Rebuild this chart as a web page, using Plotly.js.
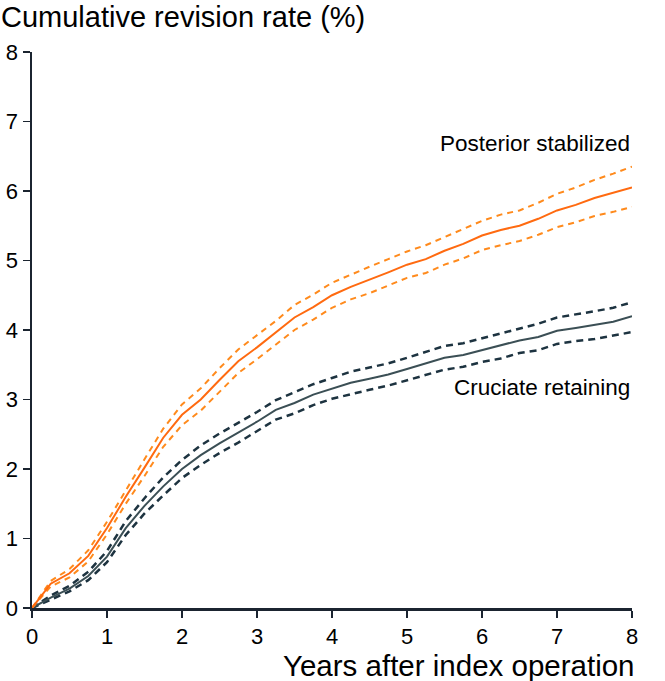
<!DOCTYPE html>
<html>
<head>
<meta charset="utf-8">
<script src="https://cdn.plot.ly/plotly-3.0.1.min.js"></script>
<style>
  html, body { margin: 0; padding: 0; background: #fff; }
  #chart { width: 665px; height: 681px; }
</style>
</head>
<body>
<div id="chart"></div>
<script>
// Years after index operation
const years = [0, 0.25, 0.5, 0.75, 1, 1.25, 1.5, 1.75, 2, 2.25, 2.5, 2.75, 3, 3.25, 3.5, 3.75,
    4, 4.25, 4.5, 4.75, 5, 5.25, 5.5, 5.75, 6, 6.25, 6.5, 6.75, 7, 7.25, 7.5, 7.75, 8];

// Posterior stabilized: estimate and 95% CI
const psRate = [0, 0.35, 0.5, 0.75, 1.15, 1.6, 2.02, 2.45, 2.78, 3.0, 3.28, 3.55, 3.75, 3.96, 4.18, 4.33,
    4.5, 4.62, 4.72, 4.83, 4.94, 5.02, 5.14, 5.24, 5.36, 5.44, 5.5, 5.6, 5.72, 5.8, 5.9, 5.98, 6.05];
const psUpper = [0, 0.39, 0.56, 0.83, 1.24, 1.7, 2.14, 2.58, 2.93, 3.16, 3.45, 3.72, 3.92, 4.13, 4.36, 4.51,
    4.68, 4.8, 4.91, 5.02, 5.13, 5.22, 5.34, 5.45, 5.57, 5.66, 5.72, 5.83, 5.96, 6.05, 6.16, 6.25, 6.35];
const psLower = [0, 0.31, 0.44, 0.67, 1.06, 1.5, 1.9, 2.32, 2.63, 2.84, 3.11, 3.38, 3.58, 3.79, 4.0, 4.15,
    4.32, 4.44, 4.53, 4.64, 4.75, 4.82, 4.94, 5.03, 5.15, 5.22, 5.28, 5.37, 5.48, 5.55, 5.64, 5.7, 5.77];

// Cruciate retaining: estimate and 95% CI
const crRate = [0, 0.15, 0.28, 0.46, 0.74, 1.15, 1.47, 1.75, 2.0, 2.2, 2.37, 2.52, 2.68, 2.85, 2.95, 3.07,
    3.16, 3.24, 3.3, 3.36, 3.44, 3.52, 3.6, 3.64, 3.71, 3.77, 3.85, 3.9, 3.99, 4.03, 4.07, 4.12, 4.2];
const crUpper = [0, 0.18, 0.32, 0.52, 0.82, 1.25, 1.58, 1.88, 2.13, 2.34, 2.51, 2.66, 2.82, 2.99, 3.1, 3.22,
    3.31, 3.4, 3.46, 3.52, 3.6, 3.69, 3.77, 3.81, 3.88, 3.95, 4.03, 4.09, 4.18, 4.22, 4.27, 4.32, 4.4];
const crLower = [0, 0.12, 0.24, 0.4, 0.66, 1.05, 1.36, 1.62, 1.87, 2.06, 2.23, 2.38, 2.54, 2.71, 2.8, 2.92,
    3.01, 3.08, 3.14, 3.2, 3.28, 3.35, 3.43, 3.47, 3.54, 3.59, 3.67, 3.71, 3.8, 3.84, 3.87, 3.92, 3.97];

const tickVals = [0, 1, 2, 3, 4, 5, 6, 7, 8];

const orange = '#ff6a10';
const orangeDash = '#ff8a1c';
const darkLine = '#3b4f55';
const darkDash = '#1d3340';
const axisColor = '#1b2430';
const fontFamily = '"Liberation Sans", Arial, Helvetica, sans-serif';

function line(y, color, width, dash) {
    return {
        x: years, y: y, type: 'scatter', mode: 'lines',
        line: { color: color, width: width, dash: dash || 'solid' },
        hoverinfo: 'skip', showlegend: false
    };
}

const traces = [
    line(crUpper, darkDash, 2.5, '7px,5px'),
    line(crLower, darkDash, 2.5, '7px,5px'),
    line(crRate, darkLine, 2),
    line(psUpper, orangeDash, 2, '6px,5px'),
    line(psLower, orangeDash, 2, '6px,5px'),
    line(psRate, orange, 2)
];

const layout = {
    width: 665, height: 681,
    margin: { l: 32, r: 33, t: 52, b: 73 },
    paper_bgcolor: '#fff',
    plot_bgcolor: '#fff',
    font: { family: fontFamily, color: '#000', size: 22 },
    xaxis: {
        range: [0, 8], tickvals: tickVals, ticks: 'outside', ticklen: 7, tickwidth: 1.5,
        tickcolor: axisColor, showline: true, linecolor: axisColor, linewidth: 2.5,
        showgrid: false, zeroline: false, fixedrange: true,
        tickfont: { size: 22, family: fontFamily }
    },
    yaxis: {
        range: [0, 8], tickvals: tickVals, ticks: 'outside', ticklen: 7, tickwidth: 1.5,
        tickcolor: axisColor, showline: true, linecolor: axisColor, linewidth: 2.5,
        showgrid: false, zeroline: false, fixedrange: true,
        tickfont: { size: 22, family: fontFamily }
    },
    annotations: [
        {
            text: 'Cumulative revision rate (%)', xref: 'paper', yref: 'paper',
            x: -0.055, y: 1.063, xanchor: 'left', yanchor: 'middle', showarrow: false,
            font: { size: 29, family: fontFamily }
        },
        {
            text: 'Years after index operation', xref: 'paper', yref: 'paper',
            x: 1.008, y: -0.103, xanchor: 'right', yanchor: 'middle', showarrow: false,
            font: { size: 29.5, family: fontFamily }
        },
        {
            text: 'Posterior stabilized', xref: 'x', yref: 'y',
            x: 8, y: 6.68, xanchor: 'right', yanchor: 'middle', showarrow: false,
            font: { size: 22.5, family: fontFamily }
        },
        {
            text: 'Cruciate retaining', xref: 'x', yref: 'y',
            x: 8, y: 3.17, xanchor: 'right', yanchor: 'middle', showarrow: false,
            font: { size: 22.5, family: fontFamily }
        }
    ]
};

Plotly.newPlot('chart', traces, layout, { displayModeBar: false, staticPlot: true });
</script>
</body>
</html>
